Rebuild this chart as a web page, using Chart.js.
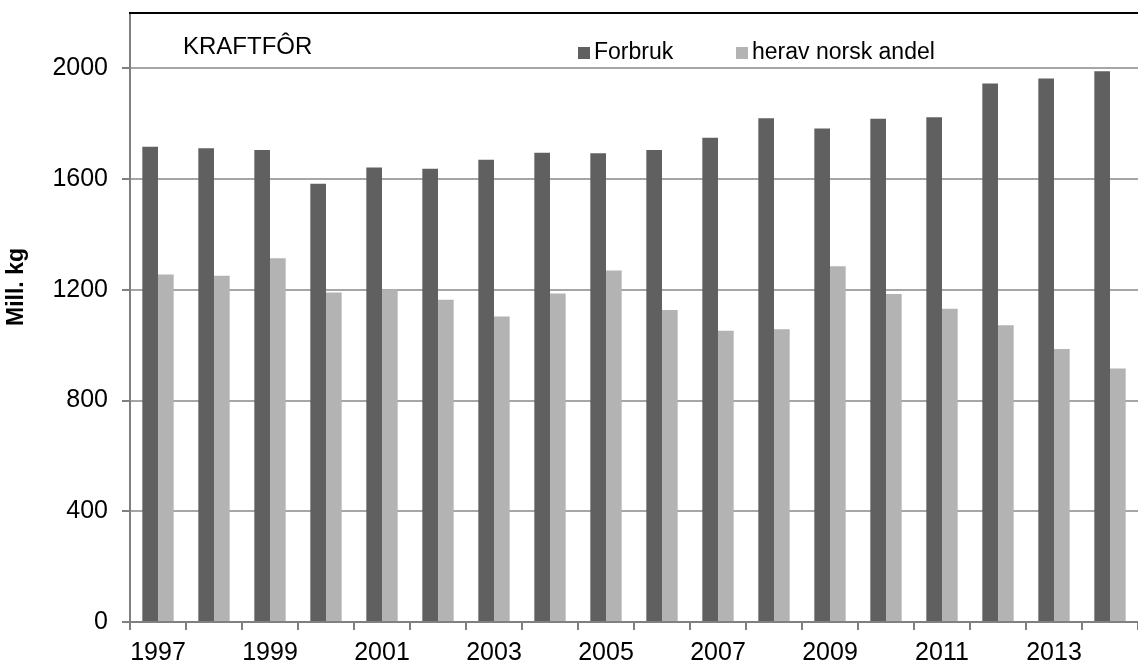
<!DOCTYPE html>
<html>
<head>
<meta charset="utf-8">
<script src="https://cdn.jsdelivr.net/npm/chart.js@4"></script>
<style>
  html, body { margin: 0; padding: 0; background: #ffffff; }
  #wrap { width: 1138px; height: 664px; }
</style>
</head>
<body>
<div id="wrap"><canvas id="kraftforChart" width="1138" height="664"></canvas></div>
<script>
// Data
var years = ['1997', '1998', '1999', '2000', '2001', '2002', '2003', '2004', '2005',
             '2006', '2007', '2008', '2009', '2010', '2011', '2012', '2013', '2014'];
var forbruk = [1717, 1711, 1705, 1583, 1642, 1637, 1670, 1695, 1693,
               1705, 1749, 1820, 1783, 1818, 1823, 1945, 1963, 1990];
var norskAndel = [1255, 1251, 1314, 1190, 1201, 1164, 1104, 1187, 1270,
                  1127, 1052, 1058, 1285, 1185, 1132, 1072, 986, 916];
var yTicks = [0, 400, 800, 1200, 1600, 2000];
var yMax = 2200;

var chartTitle = 'KRAFTFÔR';
var yTitle = 'Mill. kg';
var seriesNames = ['Forbruk', 'herav norsk andel'];
var seriesColors = ['#606060', '#b3b3b3'];

var FONT = '"Liberation Sans", Arial, sans-serif';

// Draws the top frame line, the in-plot title, the legend and the y-axis title
var decorPlugin = {
    id: 'decor',
    afterDraw: function(chart) {
        var ctx = chart.ctx;
        var area = chart.chartArea;
        ctx.save();

        // top frame line
        ctx.strokeStyle = '#000000';
        ctx.lineWidth = 2;
        ctx.beginPath();
        ctx.moveTo(area.left - 1, area.top);
        ctx.lineTo(area.right, area.top);
        ctx.stroke();

        // title inside plot
        ctx.fillStyle = '#000000';
        ctx.font = '24px ' + FONT;
        ctx.textAlign = 'left';
        ctx.textBaseline = 'middle';
        ctx.fillText(chartTitle, 183, 47);

        // legend
        ctx.font = '23px ' + FONT;
        var legendX = [578, 736];
        chart.data.datasets.forEach(function(ds, i) {
            ctx.fillStyle = ds.backgroundColor;
            ctx.fillRect(legendX[i], 47, 12, 12);
            ctx.fillStyle = '#000000';
            ctx.fillText(ds.label, legendX[i] + 16, 53);
        });

        // y axis title
        ctx.font = 'bold 23px ' + FONT;
        ctx.translate(17, 287);
        ctx.rotate(-Math.PI / 2);
        ctx.textAlign = 'center';
        ctx.fillText(yTitle, 0, 0);
        ctx.restore();
    }
};

document.addEventListener('DOMContentLoaded', function() {
    var canvas = document.getElementById('kraftforChart');
    if (!canvas) {
        console.error("Canvas 'kraftforChart' not found!");
        return;
    }
    var ctx = canvas.getContext('2d');

    new Chart(ctx, {
        type: 'bar',
        data: {
            labels: years,
            datasets: [
                {
                    label: seriesNames[0],
                    data: forbruk,
                    backgroundColor: seriesColors[0],
                    categoryPercentage: 0.56,
                    barPercentage: 1.0
                },
                {
                    label: seriesNames[1],
                    data: norskAndel,
                    backgroundColor: seriesColors[1],
                    categoryPercentage: 0.56,
                    barPercentage: 1.0
                }
            ]
        },
        options: {
            responsive: false,
            animation: false,
            devicePixelRatio: 1,
            layout: { padding: { top: 13, right: 0, left: 0, bottom: 0 } },
            plugins: {
                legend: { display: false },
                tooltip: { enabled: false }
            },
            scales: {
                x: {
                    offset: true,
                    grid: {
                        offset: true,
                        drawOnChartArea: false,
                        drawTicks: true,
                        tickLength: 8,
                        tickColor: '#808080',
                        lineWidth: 2
                    },
                    border: { color: '#808080', width: 2 },
                    ticks: {
                        autoSkip: false,
                        maxRotation: 0,
                        color: '#000000',
                        font: { family: FONT, size: 25 },
                        padding: 8,
                        callback: function(value, index) {
                            return index % 2 === 0 ? this.getLabelForValue(value) : '';
                        }
                    },
                    afterFit: function(axis) {
                        axis.height = 42;
                        axis.paddingLeft = 0;
                        axis.paddingRight = 0;
                    }
                },
                y: {
                    min: 0,
                    max: yMax,
                    afterBuildTicks: function(axis) {
                        axis.ticks = yTicks.map(function(v) { return { value: v }; });
                    },
                    grid: {
                        color: '#a6a6a6',
                        lineWidth: 2,
                        drawTicks: true,
                        tickLength: 8,
                        tickColor: '#808080'
                    },
                    border: { color: '#808080', width: 2 },
                    ticks: {
                        color: '#000000',
                        font: { family: FONT, size: 25 },
                        padding: 14,
                        callback: function(value) { return String(value); }
                    },
                    afterFit: function(axis) {
                        axis.width = 130;
                        axis.paddingTop = 0;
                        axis.paddingBottom = 0;
                    }
                }
            }
        },
        plugins: [decorPlugin]
    });
});
</script>
</body>
</html>
